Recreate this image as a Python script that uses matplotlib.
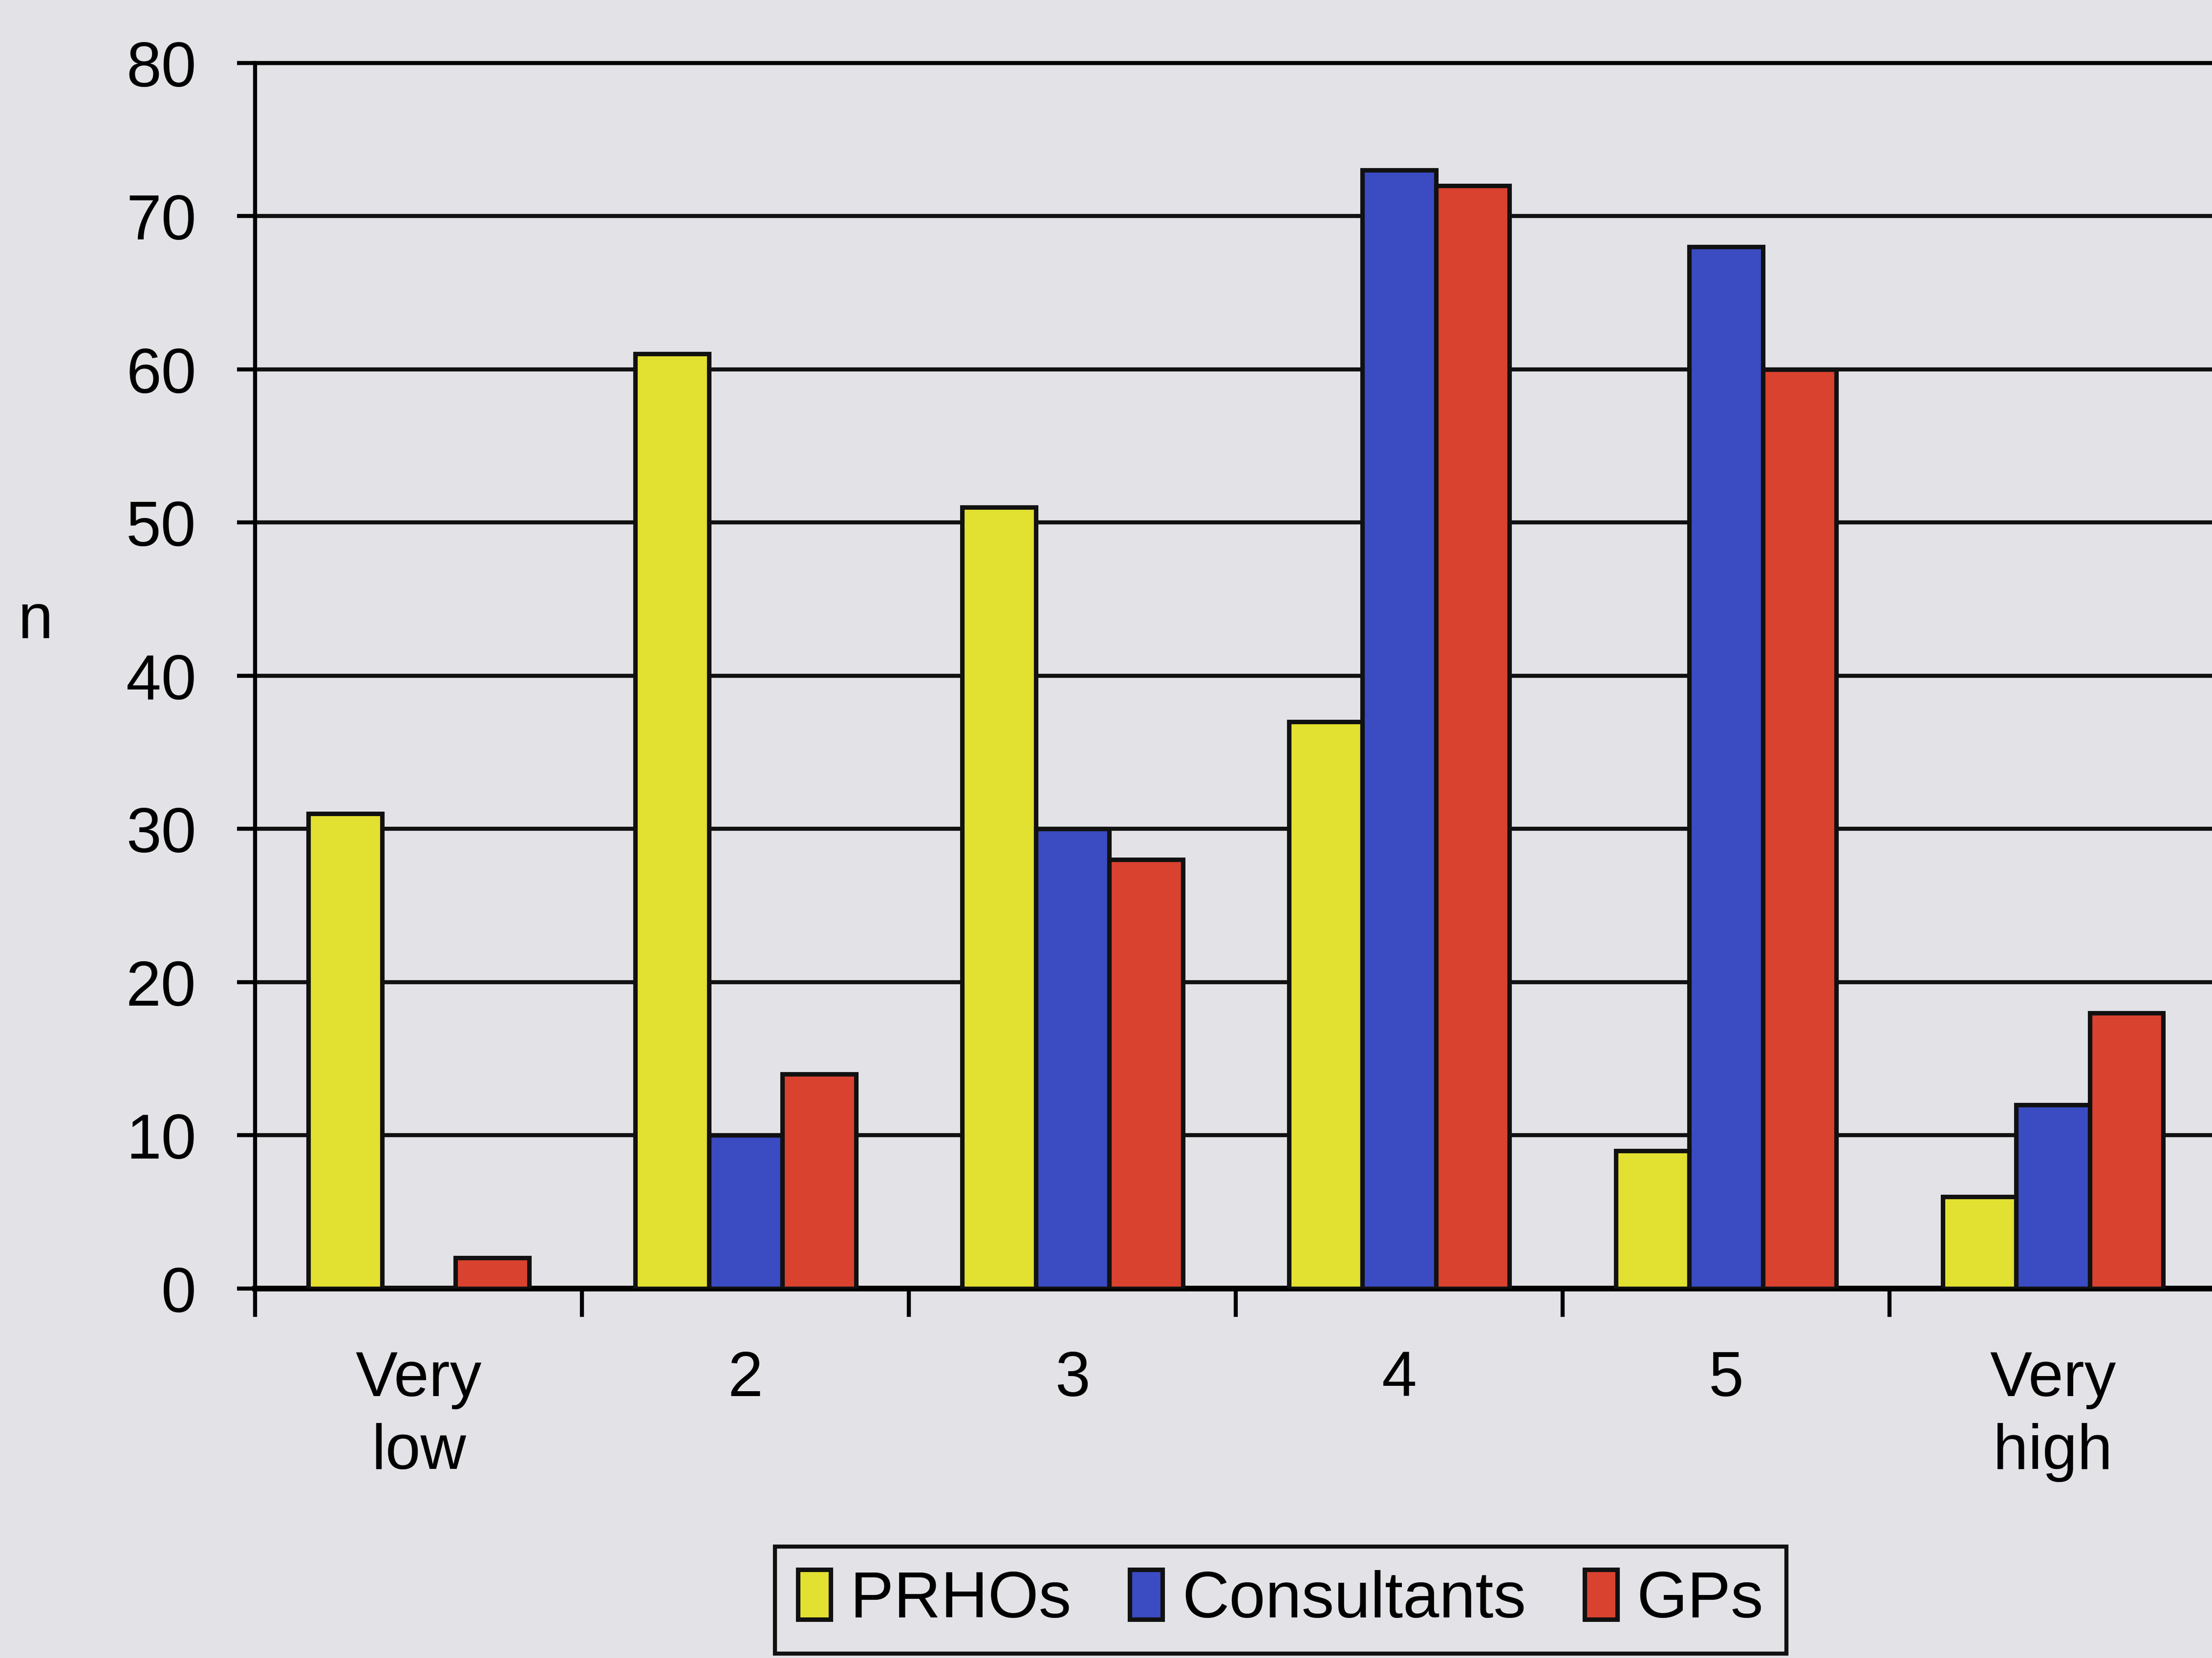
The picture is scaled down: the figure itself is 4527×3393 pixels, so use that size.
import numpy as np
import matplotlib.pyplot as plt

plt.rcParams['font.family'] = ['Liberation Sans', 'DejaVu Sans']

categories = ['Very\nlow', '2', '3', '4', '5', 'Very\nhigh']
prhos = [31, 61, 51, 37, 9, 6]
consultants = [0, 10, 30, 73, 68, 12]
gps = [2, 14, 28, 72, 60, 18]
series = [('PRHOs', prhos, '#e2e030'),
          ('Consultants', consultants, '#3b4bc2'),
          ('GPs', gps, '#d8422f')]

bg = '#e3e3e7'
fig = plt.figure(figsize=(15.09, 11.313), dpi=300, facecolor=bg)
ax = fig.add_axes([0.1154, 0.2228, 0.8866, 0.739], facecolor=bg)

x = np.arange(len(categories))
w = 0.225
for i, (name, vals, col) in enumerate(series):
    ax.bar(x + (i - 1) * w, vals, w, color=col, edgecolor='#111111',
           linewidth=2.2, label=name, zorder=3)

ax.set_ylim(0, 80)
ax.set_xlim(-0.5, len(categories) - 0.5)
ax.set_yticks(np.arange(0, 81, 10))
ax.yaxis.grid(True, color='#111111', linewidth=2.0, zorder=1)
ax.set_axisbelow(True)

ax.set_xticks(x)
ax.set_xticklabels(categories, fontsize=31, linespacing=1.3)
ax.set_xticks(np.arange(-0.5, len(categories)), minor=True)
ax.tick_params(axis='x', which='major', length=0, pad=30)
ax.tick_params(axis='x', which='minor', length=14, width=2.0, direction='out')
ax.tick_params(axis='y', labelsize=31, length=9, width=2.0, pad=20)

for s in ['left', 'bottom', 'top']:
    ax.spines[s].set_linewidth(2.0)
ax.spines['bottom'].set_linewidth(2.8)
ax.spines['right'].set_visible(False)

fig.text(0.016, 0.625, 'n', fontsize=31, ha='center', va='center')

leg = fig.legend(loc='center', bbox_to_anchor=(0.579, 0.035), ncol=3,
                 fontsize=32, frameon=True, fancybox=False, edgecolor='#111111',
                 facecolor=bg, framealpha=1, handlelength=0.5, handleheight=0.8,
                 handletextpad=0.3, columnspacing=0.9, borderpad=0.35)
leg.get_frame().set_linewidth(2.0)

fig.savefig('out.png', dpi=300, facecolor=bg)
